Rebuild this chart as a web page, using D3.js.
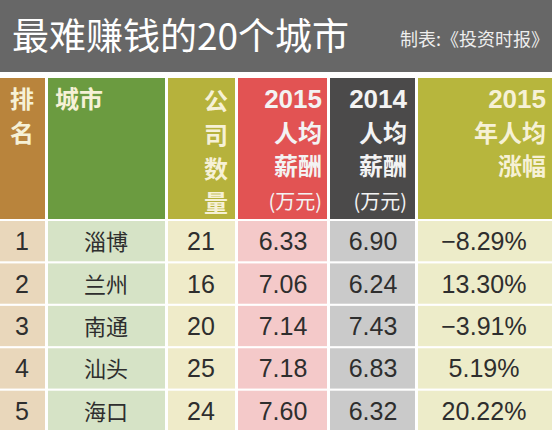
<!DOCTYPE html><html><head><meta charset="utf-8">
<script src="https://cdn.jsdelivr.net/npm/d3@7"></script>
<style>body{margin:0;background:#fff}svg{display:block}</style></head><body>
<svg id="c" width="552" height="430"></svg>
<script>
const ranks=["1","2","3","4","5"];
const cities=["淄博","兰州","南通","汕头","海口"];
const companies=[21,16,20,25,24];
const pay2015=["6.33","7.06","7.14","7.18","7.60"];
const pay2014=["6.90","6.24","7.43","6.83","6.32"];
const growth=["−8.29%","13.30%","−3.91%","5.19%","20.22%"];
const title="最难赚钱的20个城市", source="制表:《投资时报》";
const headers=[["排","名"],["城市"],["公","司","数","量"],["2015","人均","薪酬","(万元)"],["2014","人均","薪酬","(万元)"],["2015","年人均","涨幅"]];

const cols=[
 {x0:0,x1:45,h:"#b9843c",c:"#e9d7bb",hx:22,dx:22,ha:"middle"},
 {x0:48,x1:165,h:"#6b9b40",c:"#d6e3c6",ha:"start",hx:55,dx:106},
 {x0:168,x1:235,h:"#b6b23c",c:"#efebc9",ha:"end",hx:228,dx:201},
 {x0:238,x1:327,h:"#e25353",c:"#f4c9c9",ha:"end",hx:322,dx:283},
 {x0:330,x1:415,h:"#4b4a4a",c:"#cacaca",ha:"end",hx:407,dx:373},
 {x0:418,x1:552,h:"#b7b63d",c:"#edecc9",ha:"end",hx:546,dx:484}
];
const cells=[ranks,cities,companies,pay2015,pay2014,growth];
const svg=d3.select("#c");
const F="'Noto Sans CJK SC',sans-serif";
const N="'Liberation Sans','Noto Sans CJK SC',sans-serif";
svg.append("rect").attr("x",0).attr("y",0).attr("width",552).attr("height",72).attr("fill","#676767");
svg.append("text").attr("x",12).attr("y",50).attr("font-family",F).attr("font-size",37).attr("fill","#fff").text(title);
svg.append("text").attr("x",549).attr("y",46).attr("text-anchor","end").attr("font-family",F).attr("font-size",18).attr("fill","#eee").text(source);
const y=d3.scaleBand().domain(d3.range(5)).range([221,431]).paddingInner(0.05);
cols.forEach((c,i)=>{
  svg.append("rect").attr("x",c.x0).attr("y",78).attr("width",c.x1-c.x0).attr("height",141).attr("fill",c.h);
  headers[i].forEach((t,j)=>{
    const isNum=/^\d/.test(t), paren=t[0]==="(";
    svg.append("text").attr("x",c.hx).attr("y",(i===2?110:108)+j*(i===2?34:33.5)).attr("text-anchor",c.ha)
     .attr("font-family",isNum?N:F).attr("font-size",paren?20:(isNum?26:24)).attr("font-weight",paren?400:700)
     .attr("fill",i===3||i===4?"#f3f3f3":"#f6f1d6").text(t);
  });
  cells[i].forEach((v,r)=>{
    svg.append("rect").attr("x",c.x0).attr("y",y(r)).attr("width",c.x1-c.x0).attr("height",y.bandwidth()).attr("fill",c.c);
    svg.append("text").attr("x",c.dx).attr("y",y(r)+y.bandwidth()/2+9).attr("text-anchor","middle")
     .attr("font-family",i===1?F:N).attr("font-size",i===1?22:25).attr("fill","#2e2e2e").text(v);
  });
});
</script></body></html>
